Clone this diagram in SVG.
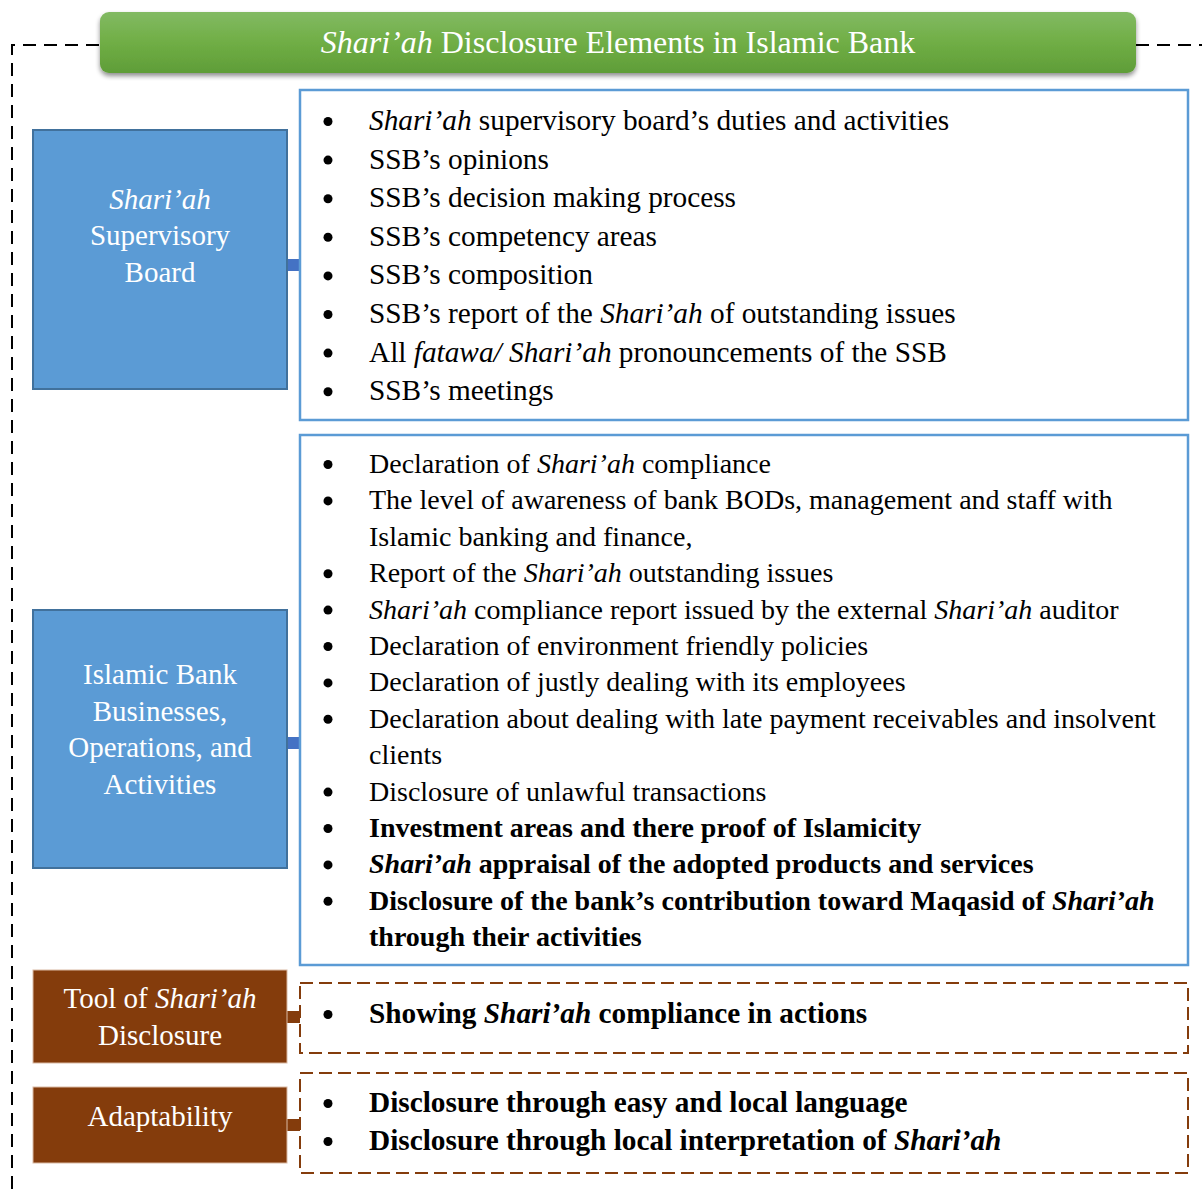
<svg xmlns="http://www.w3.org/2000/svg" width="1202" height="1189" viewBox="0 0 1202 1189">
<style>
text{font-family:"Liberation Serif","Times New Roman",serif;}
.lbl{font-size:29px;fill:#ffffff;text-anchor:middle;}
.li{font-size:29.3px;fill:#000000;}
.li2{font-size:28px;fill:#000000;}
.b{font-weight:bold;}
.i{font-style:italic;}
.bluebox{fill:#5b9bd5;stroke:#41719c;stroke-width:2;}
.brownbox{fill:#843c0c;stroke:#d9b9a3;stroke-width:1;}
.listbox{fill:#ffffff;stroke:#5b9bd5;stroke-width:2.5;}
.dashbox{fill:#ffffff;stroke:#843c0c;stroke-width:2;stroke-dasharray:13 6;}
.bstub{fill:#4472c4;}
.rstub{fill:#843c0c;}
.outer{fill:none;stroke:#000000;stroke-width:2;stroke-dasharray:13 8;}
.dot{fill:#000000;}
</style>
<defs>
<linearGradient id="g" x1="0" y1="0" x2="0" y2="1">
<stop offset="0" stop-color="#82ba63"/>
<stop offset="0.5" stop-color="#70ae45"/>
<stop offset="1" stop-color="#5f9d38"/>
</linearGradient>
<filter id="sh" x="-5%" y="-30%" width="110%" height="170%">
<feGaussianBlur in="SourceAlpha" stdDeviation="2.5"/>
<feOffset dx="0" dy="3" result="o"/>
<feComponentTransfer><feFuncA type="linear" slope="0.45"/></feComponentTransfer>
<feMerge><feMergeNode/><feMergeNode in="SourceGraphic"/></feMerge>
</filter>
</defs>
<rect width="1202" height="1189" fill="#ffffff"/>

<g id="connectors">
<path class="outer" d="M12,1189 V45 H100"/>
<path class="outer" d="M1136,45 H1202"/>
<rect class="bstub" x="287" y="259" width="14" height="12"/>
<rect class="bstub" x="287" y="737" width="14" height="12"/>
<rect class="rstub" x="287" y="1011" width="14" height="12"/>
<rect class="rstub" x="287" y="1119" width="14" height="12"/>
</g>

<g id="title">
<rect x="100" y="12" width="1036" height="61" rx="9" fill="url(#g)" filter="url(#sh)"/>
<text x="618" y="53" font-size="32" fill="#ffffff" text-anchor="middle"><tspan class="i">Shari’ah</tspan> Disclosure Elements in Islamic Bank</text>
</g>

<g id="node-ssb">
<rect class="bluebox" x="33" y="130" width="254" height="259"/>
<text class="lbl"><tspan class="i" x="160" y="208.5">Shari’ah</tspan><tspan x="160" y="245">Supervisory</tspan><tspan x="160" y="281.5">Board</tspan></text>
</g>

<g id="list-ssb">
<rect class="listbox" x="300" y="90" width="888" height="330"/>
<g class="li">
<circle class="dot" cx="328" cy="121.5" r="4.5"/><text x="369" y="130"><tspan class="i">Shari’ah</tspan> supervisory board’s duties and activities</text>
<circle class="dot" cx="328" cy="160.1" r="4.5"/><text x="369" y="168.6">SSB’s opinions</text>
<circle class="dot" cx="328" cy="198.7" r="4.5"/><text x="369" y="207.2">SSB’s decision making process</text>
<circle class="dot" cx="328" cy="237.3" r="4.5"/><text x="369" y="245.8">SSB’s competency areas</text>
<circle class="dot" cx="328" cy="275.9" r="4.5"/><text x="369" y="284.4">SSB’s composition</text>
<circle class="dot" cx="328" cy="314.5" r="4.5"/><text x="369" y="323">SSB’s report of the <tspan class="i">Shari’ah</tspan> of outstanding issues</text>
<circle class="dot" cx="328" cy="353.1" r="4.5"/><text x="369" y="361.6">All <tspan class="i">fatawa/ Shari’ah</tspan> pronouncements of the SSB</text>
<circle class="dot" cx="328" cy="391.7" r="4.5"/><text x="369" y="400.2">SSB’s meetings</text>
</g>
</g>

<g id="node-bank">
<rect class="bluebox" x="33" y="610" width="254" height="258"/>
<text class="lbl"><tspan x="160" y="684">Islamic Bank</tspan><tspan x="160" y="720.5">Businesses,</tspan><tspan x="160" y="757">Operations, and</tspan><tspan x="160" y="793.5">Activities</tspan></text>
</g>

<g id="list-bank">
<rect class="listbox" x="300" y="435" width="888" height="530"/>
<g class="li2">
<circle class="dot" cx="328" cy="464.5" r="4.5"/><text x="369" y="473">Declaration of <tspan class="i">Shari’ah</tspan> compliance</text>
<circle class="dot" cx="328" cy="500.9" r="4.5"/><text x="369" y="509.4">The level of awareness of bank  BODs, management and staff with</text>
<text x="369" y="545.8">Islamic banking and finance,</text>
<circle class="dot" cx="328" cy="573.7" r="4.5"/><text x="369" y="582.2">Report of the <tspan class="i">Shari’ah</tspan> outstanding issues</text>
<circle class="dot" cx="328" cy="610.1" r="4.5"/><text x="369" y="618.6"><tspan class="i">Shari’ah</tspan> compliance report issued by the external <tspan class="i">Shari’ah</tspan> auditor</text>
<circle class="dot" cx="328" cy="646.5" r="4.5"/><text x="369" y="655">Declaration of environment friendly policies</text>
<circle class="dot" cx="328" cy="682.9" r="4.5"/><text x="369" y="691.4">Declaration of justly dealing with its employees</text>
<circle class="dot" cx="328" cy="719.3" r="4.5"/><text x="369" y="727.8">Declaration about dealing with late payment receivables and insolvent</text>
<text x="369" y="764.2">clients</text>
<circle class="dot" cx="328" cy="792.1" r="4.5"/><text x="369" y="800.6">Disclosure of unlawful transactions</text>
<circle class="dot" cx="328" cy="828.5" r="4.5"/><text x="369" y="837" class="b">Investment areas and there proof of Islamicity</text>
<circle class="dot" cx="328" cy="864.9" r="4.5"/><text x="369" y="873.4" class="b"><tspan class="i">Shari’ah</tspan> appraisal of the adopted products and services</text>
<circle class="dot" cx="328" cy="901.3" r="4.5"/><text x="369" y="909.8" class="b">Disclosure of the bank’s contribution toward Maqasid of <tspan class="i">Shari’ah</tspan></text>
<text x="369" y="946.2" class="b">through their activities</text>
</g>
</g>

<g id="node-tool">
<rect class="brownbox" x="33" y="970" width="254" height="93"/>
<text class="lbl"><tspan x="160" y="1008">Tool of <tspan class="i">Shari’ah</tspan></tspan><tspan x="160" y="1045">Disclosure</tspan></text>
</g>

<g id="list-tool">
<rect class="dashbox" x="300" y="983" width="888" height="70"/>
<g class="li">
<circle class="dot" cx="328" cy="1014.5" r="4.5"/><text x="369" y="1023" class="b">Showing <tspan class="i">Shari’ah</tspan> compliance in actions</text>
</g>
</g>

<g id="node-adapt">
<rect class="brownbox" x="33" y="1087" width="254" height="76"/>
<text class="lbl" x="160" y="1126">Adaptability</text>
</g>

<g id="list-adapt">
<rect class="dashbox" x="300" y="1073" width="888" height="100"/>
<g class="li">
<circle class="dot" cx="328" cy="1103.5" r="4.5"/><text x="369" y="1112" class="b">Disclosure through easy and local language</text>
<circle class="dot" cx="328" cy="1141.5" r="4.5"/><text x="369" y="1150" class="b">Disclosure through local interpretation of <tspan class="i">Shari’ah</tspan></text>
</g>
</g>
</svg>
